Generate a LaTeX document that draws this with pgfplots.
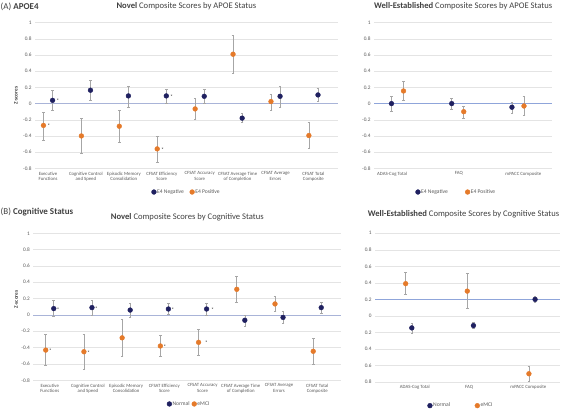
\documentclass[border=0pt]{standalone}
\usepackage{pgfplots}
\pgfplotsset{compat=1.18}
\usepackage{fontspec}
\setmainfont{Carlito}
\definecolor{navy}{HTML}{1F2060}
\definecolor{orng}{HTML}{E57A2A}
\definecolor{gridc}{HTML}{E4E4E4}
\definecolor{errc}{HTML}{A6A6A6}
\definecolor{zeroc}{HTML}{A9B4D8}
\definecolor{zeroc2}{HTML}{8FA5DA}
\definecolor{txt}{HTML}{595959}
\definecolor{ttl}{HTML}{404040}
\tikzset{st/.style={font=\fontsize{5}{6}\selectfont, text=black, inner sep=0pt, yshift=-0.8pt}}
\pgfplotsset{
  panel/.style={
    scale only axis, anchor=south west, clip=false,
    axis line style={draw=none}, major tick length=0pt,
    ymin=-0.8, ymax=1,
    ytick={-0.8,-0.6,-0.4,-0.2,0,0.2,0.4,0.6,0.8,1},
    yticklabels={-0.8,-0.6,-0.4,-0.2,0,0.2,0.4,0.6,0.8,1},
    ymajorgrids, grid style={gridc, line width=0.5pt},
    yticklabel style={font=\fontsize{5.3}{6}\selectfont, text=txt},
    xticklabel style={font=\fontsize{4.8}{5.8}\selectfont, text=txt, align=center},
    title style={font=\fontsize{8.6}{9}\selectfont, text=ttl, at={(0.5,1)}, anchor=center, yshift=10.5pt},
    ylabel style={font=\fontsize{5.3}{6}\selectfont\bfseries, text=ttl},
    legend style={draw=none, fill=none, font=\fontsize{5.6}{6.5}\selectfont, text=txt, legend columns=2,
      inner sep=0pt, outer sep=0pt, nodes={inner sep=0.8pt}, anchor=west},
    legend cell align=left,
    legend image code/.code={\draw[##1] plot coordinates {(0pt,0pt)};},
  },
  bl/.style={only marks, mark=*, mark size=2.4pt, mark options={fill=navy, draw=navy}, color=navy,
    error bars/.cd, y dir=both, y explicit,
    error bar style={errc, line width=0.6pt},
    error mark options={rotate=90, errc, mark size=1.3pt, line width=0.5pt}},
  or/.style={only marks, mark=*, mark size=2.4pt, mark options={fill=orng, draw=orng}, color=orng,
    error bars/.cd, y dir=both, y explicit,
    error bar style={errc, line width=0.6pt},
    error mark options={rotate=90, errc, mark size=1.3pt, line width=0.5pt}},
}
\begin{document}
\begin{tikzpicture}
\useasboundingbox (0,0) rectangle (562pt,411pt);
\node[anchor=west, font=\fontsize{9}{10}\selectfont, text=ttl, inner sep=0pt] at (0.5pt,404pt) {(A) \textbf{APOE4}};
\node[anchor=west, font=\fontsize{9}{10}\selectfont, text=ttl, inner sep=0pt] at (0.5pt,199.3pt) {(B) \textbf{Cognitive Status}};

% ---------- A left ----------
\begin{axis}[panel, at={(35pt,242.7pt)}, width=302.7pt, height=145.6pt,
  xmin=-0.343, xmax=7.64,
  xtick={0,1,2,3,4,5,6,7},
  xticklabels={{Executive\\Functions},{Cognitive Control\\and Speed},{Episodic Memory\\Consolidation},{CFSAT Efficiency\\Score},{CFSAT Accuracy\\Score},{CFSAT Average Time\\of Completion},{CFSAT Average\\Errors},{CFSAT Total\\Composite}},
  extra y ticks={0}, extra y tick labels={}, extra y tick style={grid style={zeroc, line width=0.8pt}},
  title={\textbf{Novel} Composite Scores by APOE Status},
  ylabel={Z-scores}, ylabel style={at={(axis description cs:-0.063,0.5)}, anchor=center},
  legend style={at={(0.385,-0.163)}, /tikz/every even column/.append style={column sep=5pt}},
]
\addplot[bl] table[x=x, y=y, y error plus=ep, y error minus=em, row sep=\\] {
x y ep em \\
0.12 0.04 0.13 0.12 \\
1.12 0.165 0.125 0.12 \\
2.12 0.095 0.125 0.135 \\
3.12 0.095 0.085 0.085 \\
4.12 0.09 0.09 0.09 \\
5.12 -0.18 0.06 0.055 \\
6.12 0.09 0.12 0.13 \\
7.12 0.107 0.083 0.082 \\
};
\addlegendentry{E4 Negative}
\addplot[or] table[x=x, y=y, y error plus=ep, y error minus=em, row sep=\\] {
x y ep em \\
-0.12 -0.27 0.16 0.18 \\
0.88 -0.40 0.22 0.22 \\
1.88 -0.28 0.20 0.20 \\
2.88 -0.56 0.16 0.17 \\
3.88 -0.066 0.13 0.125 \\
4.88 0.61 0.23 0.23 \\
5.88 0.025 0.095 0.105 \\
6.88 -0.395 0.16 0.155 \\
};
\addlegendentry{E4 Positive}
\node[st] at (axis cs:0.26,0.04) {*};
\node[st] at (axis cs:0.02,-0.27) {*};
\node[st] at (axis cs:3.26,0.095) {*};
\node[st] at (axis cs:3.02,-0.56) {*};
\end{axis}

% ---------- A right ----------
\begin{axis}[panel, at={(374pt,242.7pt)}, width=178.3pt, height=145.6pt,
  xmin=-0.39, xmax=2.57,
  xtick={-0.09,1.02,2.09},
  xticklabels={ADAS-Cog Total,FAQ,mPACC Composite},
  extra y ticks={0}, extra y tick labels={}, extra y tick style={grid style={zeroc2, line width=0.8pt}},
  title={\textbf{Well-Established} Composite Scores by APOE Status},
  legend style={at={(0.233,-0.163)}, /tikz/every even column/.append style={column sep=16.5pt}},
]
\addplot[bl] table[x=x, y=y, y error plus=ep, y error minus=em, row sep=\\] {
x y ep em \\
-0.1 0.0 0.09 0.095 \\
0.9 0.0 0.07 0.074 \\
1.9 -0.045 0.065 0.07 \\
};
\addlegendentry{E4 Negative}
\addplot[or] table[x=x, y=y, y error plus=ep, y error minus=em, row sep=\\] {
x y ep em \\
0.1 0.156 0.124 0.12 \\
1.1 -0.10 0.07 0.08 \\
2.1 -0.03 0.12 0.11 \\
};
\addlegendentry{E4 Positive}
\end{axis}

% ---------- B left ----------
\begin{axis}[panel, at={(33.3pt,30.7pt)}, width=308pt, height=147pt,
  xmin=-0.43, xmax=7.63,
  xtick={0,1,2,3,4,5,6,7},
  xticklabels={{Executive\\Functions},{Cognitive Control\\and Speed},{Episodic Memory\\Consolidation},{CFSAT Efficiency\\Score},{CFSAT Accuracy\\Score},{CFSAT Average Time\\of Completion},{CFSAT Average\\Errors},{CFSAT Total\\Composite}},
  extra y ticks={0}, extra y tick labels={}, extra y tick style={grid style={zeroc, line width=0.8pt}},
  title={\textbf{Novel} Composite Scores by Cognitive Status},
  ylabel={Z-scores}, ylabel style={at={(axis description cs:-0.056,0.55)}, anchor=center},
  legend style={at={(0.434,-0.161)}, /tikz/every even column/.append style={column sep=1.5pt}},
]
\addplot[bl] table[x=x, y=y, y error plus=ep, y error minus=em, row sep=\\] {
x y ep em \\
0.105 0.078 0.097 0.098 \\
1.105 0.09 0.094 0.094 \\
2.105 0.06 0.087 0.09 \\
3.105 0.073 0.07 0.069 \\
4.105 0.073 0.067 0.073 \\
5.105 -0.065 0.065 0.07 \\
6.105 -0.03 0.07 0.07 \\
7.105 0.09 0.065 0.07 \\
};
\addlegendentry{Normal}
\addplot[or] table[x=x, y=y, y error plus=ep, y error minus=em, row sep=\\] {
x y ep em \\
-0.105 -0.43 0.193 0.19 \\
0.895 -0.45 0.213 0.22 \\
1.895 -0.28 0.23 0.225 \\
2.895 -0.38 0.13 0.13 \\
3.895 -0.335 0.155 0.155 \\
4.895 0.314 0.156 0.154 \\
5.895 0.135 0.089 0.09 \\
6.895 -0.445 0.159 0.155 \\
};
\addlegendentry{eMCI}
\node[st] at (axis cs:0.22,0.078) {*};
\node[st] at (axis cs:0.015,-0.43) {*};
\node[st] at (axis cs:1.22,0.09) {*};
\node[st] at (axis cs:1.015,-0.45) {*};
\node[st] at (axis cs:3.22,0.073) {*};
\node[st] at (axis cs:3.015,-0.38) {*};
\node[st] at (axis cs:4.26,0.073) {*};
\node[st] at (axis cs:4.10,-0.335) {*};
\end{axis}

% ---------- B right ----------
\begin{axis}[panel, at={(375pt,29pt)}, width=185pt, height=148.7pt,
  xmin=-0.547, xmax=2.454,
  xtick={0.1,0.98,1.94},
  xticklabels={ADAS-Cog Total,FAQ,mPACC Composite},
  yticklabels={0.8,0.6,0.4,0.2,0,0.2,0.4,0.6,0.8,1},
  extra y ticks={0.2}, extra y tick labels={}, extra y tick style={grid style={zeroc2, line width=0.8pt}},
  title={\textbf{Well-Established} Composite Scores by Cognitive Status},
  title style={yshift=2.5pt, xshift=-4pt},
  legend style={at={(0.284,-0.159)}, /tikz/every even column/.append style={column sep=24pt}},
]
\addplot[bl] table[x=x, y=y, y error plus=ep, y error minus=em, row sep=\\] {
x y ep em \\
0.05 -0.145 0.055 0.065 \\
1.05 -0.117 0.037 0.037 \\
2.05 0.20 0.035 0.03 \\
};
\addlegendentry{Normal}
\addplot[or] table[x=x, y=y, y error plus=ep, y error minus=em, row sep=\\] {
x y ep em \\
-0.05 0.39 0.14 0.13 \\
0.95 0.30 0.22 0.21 \\
1.95 -0.70 0.094 0.09 \\
};
\addlegendentry{eMCI}
\end{axis}
\end{tikzpicture}
\end{document}
